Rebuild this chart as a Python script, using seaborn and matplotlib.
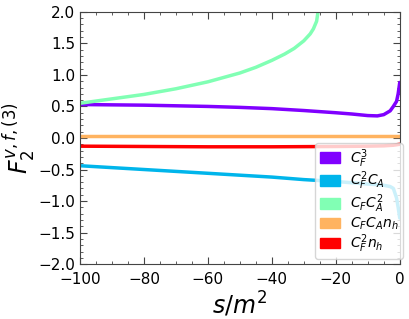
import numpy as np
import pandas as pd
import matplotlib
matplotlib.use("Agg")
import matplotlib.pyplot as plt
import seaborn as sns
from matplotlib.patches import Patch

# values
s_cf3 = [-100, -90, -80, -70, -60, -50, -40, -30, -20, -15, -10, -7, -5, -3, -2, -1, -0.5, 0]
cf3 = [0.53, 0.525, 0.52, 0.51, 0.50, 0.485, 0.465, 0.435, 0.40, 0.38, 0.355, 0.35, 0.37, 0.43, 0.50, 0.58, 0.70, 0.88]

s_cf2ca = [-100, -90, -80, -70, -60, -50, -40, -30, -20, -15, -10, -7, -5, -3, -2, -1, -0.5, 0]
cf2ca = [-0.44, -0.47, -0.50, -0.53, -0.56, -0.59, -0.62, -0.66, -0.69, -0.71, -0.73, -0.74, -0.75, -0.77, -0.80, -0.95, -1.10, -1.27]

s_cfca2 = [-100, -90, -80, -70, -60, -50, -45, -40, -36, -33, -30, -28, -27, -26, -25.5]
cfca2 = [0.55, 0.62, 0.69, 0.78, 0.89, 1.03, 1.12, 1.23, 1.33, 1.42, 1.54, 1.65, 1.73, 1.85, 2.02]

s_flat = [-100, -80, -60, -40, -20, -10, -5, -2, 0]
cfcanh = [0.03, 0.03, 0.03, 0.03, 0.03, 0.03, 0.03, 0.03, 0.03]
cf2nh = [-0.13, -0.135, -0.14, -0.14, -0.135, -0.13, -0.125, -0.115, -0.10]

labels = [r"$C_F^3$", r"$C_F^2C_A$", r"$C_FC_A^2$", r"$C_FC_An_h$", r"$C_F^2n_h$"]
series = [(s_cf3, cf3), (s_cf2ca, cf2ca), (s_cfca2, cfca2), (s_flat, cfcanh), (s_flat, cf2nh)]

colors = plt.cm.rainbow(np.linspace(0, 1, 5))

sns.set_style("ticks")
plt.rcParams.update({"text.color": "black", "axes.labelcolor": "black",
                     "xtick.color": "black", "ytick.color": "black",
                     "axes.edgecolor": "black"})
fig, ax = plt.subplots(figsize=(4.1, 3.19), dpi=100)

for (x, y), c, lab in zip(series, colors, labels):
    df = pd.DataFrame({"s": x, "F": y})
    sns.lineplot(data=df, x="s", y="F", color=c, lw=2.5, ax=ax)

ax.set_xlim(-100, 0)
ax.set_ylim(-2, 2)
ax.set_xticks([-100, -80, -60, -40, -20, 0])
ax.set_yticks(np.arange(-2, 2.01, 0.5))
ax.minorticks_on()
ax.tick_params(which="both", direction="in", top=True, right=True, labelsize=11,
               color="#444444")
ax.tick_params(which="major", length=5)
ax.tick_params(which="minor", length=2.5)
ax.tick_params(axis="x", pad=6)
ax.set_xlabel(r"$s/m^2$", fontsize=17, labelpad=2)
ax.set_ylabel(r"$F_2^{v,f,(3)}$", fontsize=17, labelpad=0)
for sp in ax.spines.values():
    sp.set_color("#444444")

handles = [Patch(color=c, label=lab) for c, lab in zip(colors, labels)]
ax.legend(handles=handles, loc="lower right", bbox_to_anchor=(1.01, 0.02),
          fontsize=10, handlelength=1.5, handleheight=0.8, labelspacing=0.02,
          borderpad=0.3, handletextpad=0.7, borderaxespad=0.0)

fig.subplots_adjust(left=0.195, right=0.975, top=0.963, bottom=0.172)
fig.savefig("out.png", dpi=100)
